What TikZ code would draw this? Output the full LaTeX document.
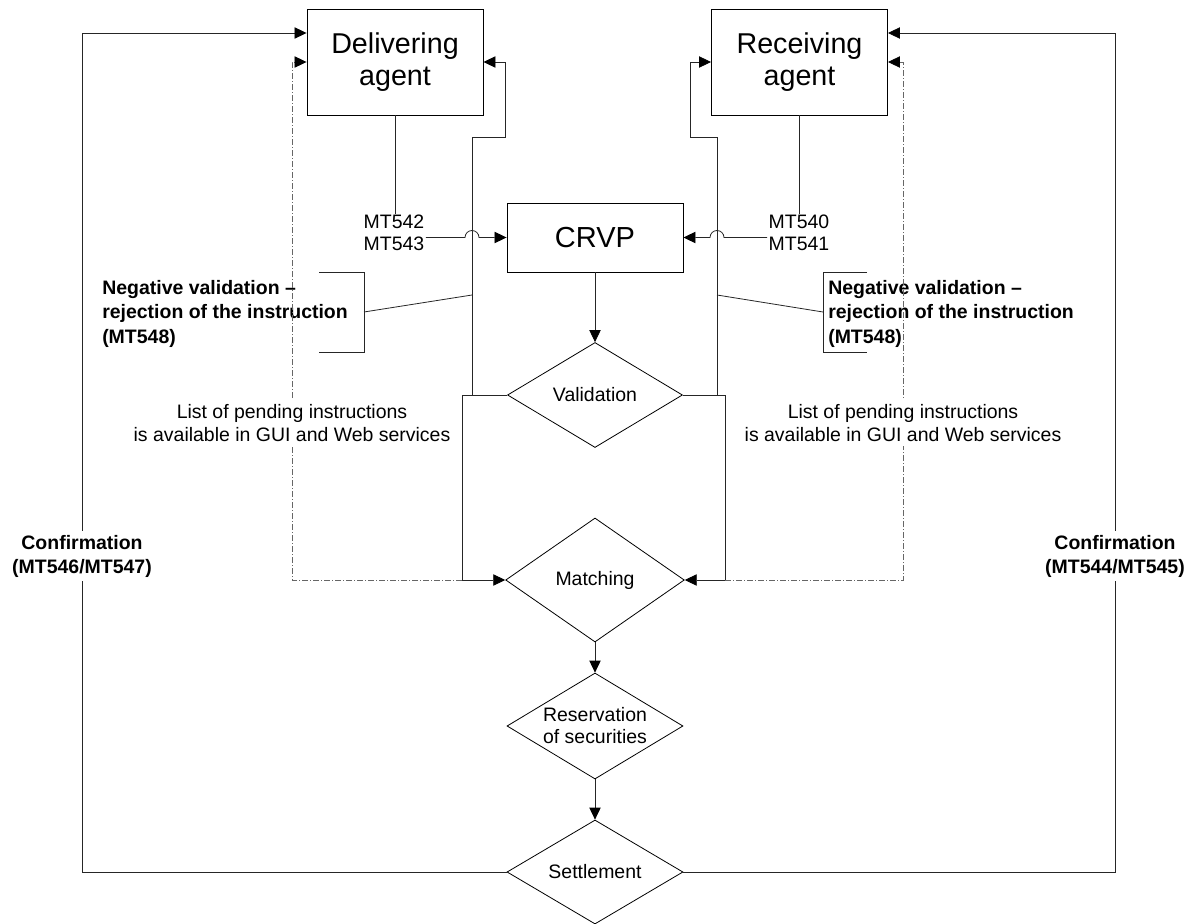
\documentclass[tikz,border=0pt]{standalone}
\usepackage{fontspec}
\setmainfont{Liberation Sans}
\usetikzlibrary{arrows.meta,shapes.geometric}
\begin{document}
\begin{tikzpicture}[x=0.75pt,y=-0.75pt,
  box/.style={draw=black,line width=0.7pt,minimum width=132pt,inner sep=0pt,align=center,font=\fontsize{21.5}{24}\selectfont},
  dia/.style={draw=black,line width=0.6pt,diamond,inner sep=0pt,aspect=1.67,align=center,font=\fontsize{14.6}{16.5}\selectfont},
  conn/.style={line width=0.6pt,draw=black!85},
  arr/.style={conn,-{Triangle[length=9pt,width=8.5pt,color=black]}},
  dd/.style={line width=0.6pt,draw=black!60,dash pattern=on 4.5pt off 1.5pt on 0.75pt off 1.5pt},
  ddarr/.style={dd,-{Triangle[length=9pt,width=8.5pt,color=black]}},
  small/.style={font=\fontsize{14.6}{16.5}\selectfont,inner sep=1pt},
  listtext/.style={font=\fontsize{14.6}{17.25}\selectfont,inner xsep=1pt,inner ysep=3pt,fill=white,align=center},
  boldtext/.style={font=\bfseries\fontsize{14.6}{18.4}\selectfont,inner sep=0pt}
]
\useasboundingbox (0,0) rectangle (1189,924);

% main nodes
\node[box,minimum height=79.5pt] (deliv) at (395,62) {Delivering\\agent};
\node[box,minimum height=79.5pt] (recv) at (799.5,62) {Receiving\\agent};
\node[box,minimum height=51.75pt,font=\fontsize{21.75}{24}\selectfont] (crvp) at (595,237.5) {CRVP};
\node[dia,minimum width=131.25pt,minimum height=78.75pt] (val) at (595,395) {Validation};
\node[dia,minimum width=134pt,minimum height=93pt] (match) at (595,580) {Matching};
\node[dia,minimum width=132pt,minimum height=79.5pt] (res) at (595,726) {Reservation\\of securities};
\node[dia,minimum width=132pt,minimum height=78pt] (settle) at (595,872) {Settlement};

% message labels
\node[small,align=left] (mtl) at (394,233) {MT542\\MT543};
\node[small,align=left] (mtr) at (799,233) {MT540\\MT541};

% rejection texts
\node[boldtext,align=left,anchor=north west] (negl) at (102,280) {Negative validation –\\rejection of the instruction\\(MT548)};
\node[boldtext,align=left,anchor=north west] (negr) at (828,280) {Negative validation –\\rejection of the instruction\\(MT548)};

% brackets
\draw[conn] (319,272) -- (364,272) -- (364,352) -- (319,352);
\draw[conn] (867,272) -- (823,272) -- (823,352) -- (867,352);
\coordinate (bl) at (364,312);
\coordinate (br) at (823,312);

% agent to message
\draw[conn] (deliv.south) -- (deliv.south |- mtl.north);
\draw[conn] (recv.south) -- (recv.south |- mtr.north);

% message to CRVP with line jumps
\draw[arr] (mtl.east |- crvp.west) -- (465,237.5) arc[start angle=180,end angle=360,radius=7] -- (crvp.west);
\draw[arr] (mtr.west |- crvp.east) -- (724,237.5) arc[start angle=0,end angle=-180,radius=7] -- (crvp.east);

% main flow
\draw[arr] (crvp.south) -- (val.north);
\draw[arr] (match.south) -- (res.north);
\draw[arr] (res.south) -- (settle.north);

% validation feedback
\draw[arr] (val.west) -- (472,395) -- (472,137) -- (505,137) -- (505,62) -- (deliv.east);
\draw[arr] (val.east) -- (717,395) -- (717,137) -- (690,137) -- (690,62) -- (recv.west);
\draw[conn] (bl) -- (472,295);
\draw[conn] (br) -- (717,295);

% validation to matching
\draw[arr] (val.west) -- (462,395) -- (462,580) -- (match.west);
\draw[arr] (val.east) -- (725,395) -- (725,580) -- (match.east);

% pending list (dash-dot)
\draw[ddarr] (462,580) -- (292,580) -- (292,62) -- (deliv.west);
\draw[ddarr] (725,580) -- (903,580) -- (903,62) -- (recv.east);

% confirmations
\draw[arr] (settle.west) -| (82,33) -- (deliv.west |- 0,33);
\draw[arr] (settle.east) -| (1115,33) -- (recv.east |- 0,33);

% masking texts
\node[listtext] (listl) at (292,423) {List of pending instructions\\is available in GUI and Web services};
\node[listtext] (listr) at (903,423) {List of pending instructions\\is available in GUI and Web services};
\node[boldtext,fill=white,align=center,inner ysep=3pt,font=\bfseries\fontsize{14.6}{18}\selectfont] (confl) at (82,556) {Confirmation\\(MT546/MT547)};
\node[boldtext,fill=white,align=center,inner ysep=3pt,font=\bfseries\fontsize{14.6}{18}\selectfont] (confr) at (1115,556) {Confirmation\\(MT544/MT545)};
\end{tikzpicture}
\end{document}
